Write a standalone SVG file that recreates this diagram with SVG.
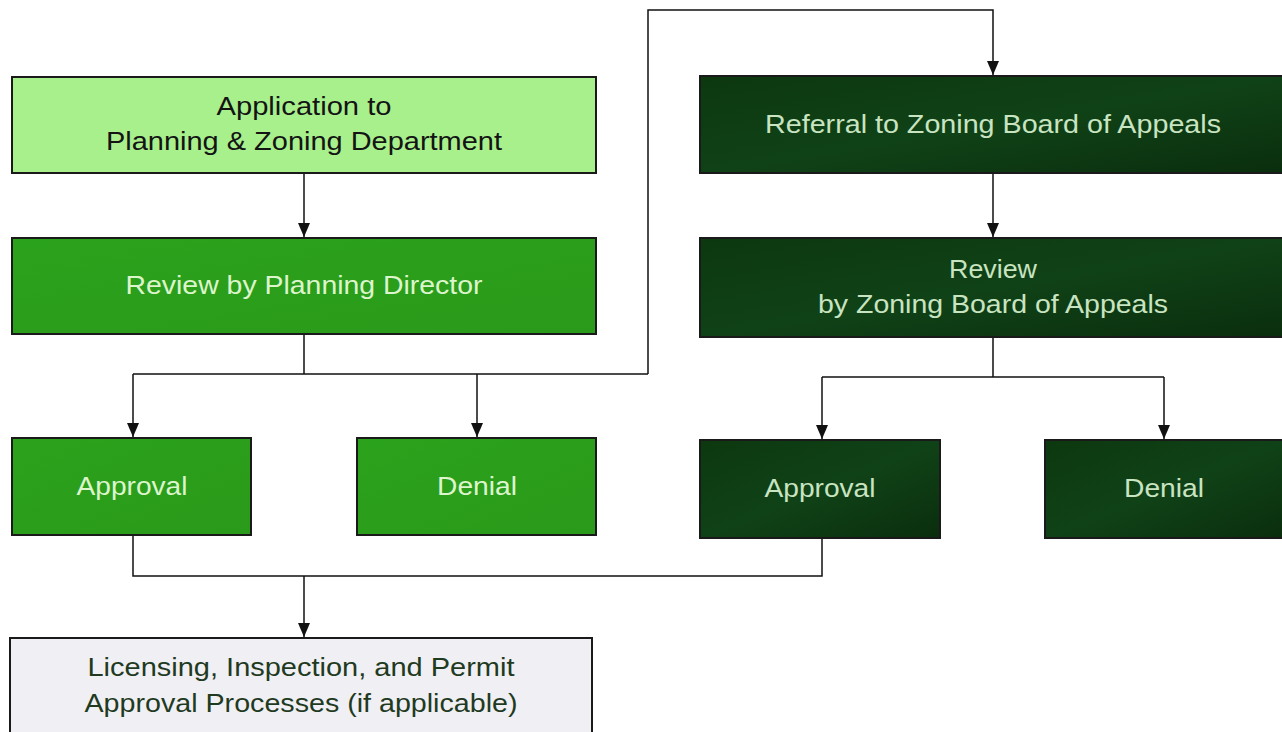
<svg xmlns="http://www.w3.org/2000/svg" width="1282" height="732" viewBox="0 0 1282 732">
<defs>
<marker id="arr" markerWidth="14" markerHeight="12" refX="14" refY="6" orient="auto" markerUnits="userSpaceOnUse" viewBox="0 0 14 12">
<path d="M0,0 L14,6 L0,12 Z" fill="#111"/>
</marker>
<linearGradient id="dark" x1="0" y1="0" x2="1" y2="1">
<stop offset="0" stop-color="#0d380f"/><stop offset="0.5" stop-color="#104217"/><stop offset="1" stop-color="#0a2e0d"/>
</linearGradient>
<linearGradient id="mid" x1="0" y1="0" x2="1" y2="1">
<stop offset="0" stop-color="#2ba21c"/><stop offset="1" stop-color="#2a9a1a"/>
</linearGradient>
</defs>
<style>
.box{stroke:#1a1a1a;stroke-width:2}
.light{fill:#a8f08c}
.mid{fill:url(#mid)}
.dark{fill:url(#dark)}
.pale{fill:#f0f0f4}
text{font-family:"Liberation Sans Narrow","Liberation Sans",Arial,sans-serif;font-size:25px;text-anchor:middle}
.t-light{fill:#141414}
.t-mid{fill:#dcf5cc}
.t-dark{fill:#c8e4c0}
.t-pale{fill:#1f3a1f}
.conn{fill:none;stroke:#111;stroke-width:1.5}
</style>
<rect width="1282" height="732" fill="#ffffff"/>
<g id="connectors">
<path class="conn" d="M304,173 V237" marker-end="url(#arr)"/>
<path class="conn" d="M304,334 V374 M133,374 H648"/>
<path class="conn" d="M133,374 V437" marker-end="url(#arr)"/>
<path class="conn" d="M477,374 V437" marker-end="url(#arr)"/>
<path class="conn" d="M648,374 V10 H993 V75" marker-end="url(#arr)"/>
<path class="conn" d="M993,173 V237" marker-end="url(#arr)"/>
<path class="conn" d="M993,337 V377 M822,377 H1164"/>
<path class="conn" d="M822,377 V439" marker-end="url(#arr)"/>
<path class="conn" d="M1164,377 V439" marker-end="url(#arr)"/>
<path class="conn" d="M133,535 V576 H822 V538"/>
<path class="conn" d="M304,576 V637" marker-end="url(#arr)"/>
</g>
<g id="application">
<rect class="box light" x="12" y="77" width="584" height="96"/>
<text class="t-light" x="304" y="115" textLength="175" lengthAdjust="spacingAndGlyphs">Application to</text>
<text class="t-light" x="304" y="150" textLength="396" lengthAdjust="spacingAndGlyphs">Planning &amp; Zoning Department</text>
</g>
<g id="review-director">
<rect class="box mid" x="12" y="238" width="584" height="96"/>
<text class="t-mid" x="304" y="294" textLength="357" lengthAdjust="spacingAndGlyphs">Review by Planning Director</text>
</g>
<g id="approval-left">
<rect class="box mid" x="12" y="438" width="239" height="97"/>
<text class="t-mid" x="132" y="495" textLength="111" lengthAdjust="spacingAndGlyphs">Approval</text>
</g>
<g id="denial-left">
<rect class="box mid" x="357" y="438" width="239" height="97"/>
<text class="t-mid" x="477" y="495" textLength="80" lengthAdjust="spacingAndGlyphs">Denial</text>
</g>
<g id="referral">
<rect class="box dark" x="700" y="76" width="584" height="97"/>
<text class="t-dark" x="993" y="133" textLength="456" lengthAdjust="spacingAndGlyphs">Referral to Zoning Board of Appeals</text>
</g>
<g id="review-zba">
<rect class="box dark" x="700" y="238" width="584" height="99"/>
<text class="t-dark" x="993" y="278" textLength="88" lengthAdjust="spacingAndGlyphs">Review</text>
<text class="t-dark" x="993" y="313" textLength="350" lengthAdjust="spacingAndGlyphs">by Zoning Board of Appeals</text>
</g>
<g id="approval-right">
<rect class="box dark" x="700" y="440" width="240" height="98"/>
<text class="t-dark" x="820" y="497" textLength="111" lengthAdjust="spacingAndGlyphs">Approval</text>
</g>
<g id="denial-right">
<rect class="box dark" x="1045" y="440" width="239" height="98"/>
<text class="t-dark" x="1164" y="497" textLength="80" lengthAdjust="spacingAndGlyphs">Denial</text>
</g>
<g id="licensing">
<rect class="box pale" x="10" y="638" width="582" height="100"/>
<text class="t-pale" x="301" y="676" textLength="427" lengthAdjust="spacingAndGlyphs">Licensing, Inspection, and Permit</text>
<text class="t-pale" x="301" y="712" textLength="433" lengthAdjust="spacingAndGlyphs">Approval Processes (if applicable)</text>
</g>
</svg>
